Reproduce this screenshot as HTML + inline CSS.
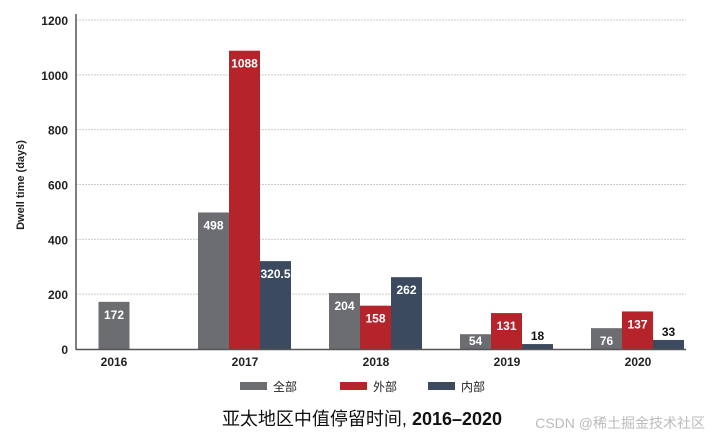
<!DOCTYPE html>
<html><head><meta charset="utf-8"><style>
body{margin:0;background:#fff;width:720px;height:440px;overflow:hidden;font-family:"Liberation Sans","Noto Sans CJK SC",sans-serif}
</style></head><body>
<svg id="chart" width="720" height="440" xmlns="http://www.w3.org/2000/svg" font-family="Liberation Sans, Noto Sans CJK SC, sans-serif">
<text transform="translate(24,185) rotate(-90)" text-anchor="middle" font-size="11" font-weight="bold" fill="#222">Dwell time (days)</text>
<g id="grid"></g><g id="bars"></g>
<line x1="76" y1="14" x2="76" y2="350" stroke="#555" stroke-width="1.5"/>
<line x1="76" y1="349.5" x2="686" y2="349.5" stroke="#555" stroke-width="1.5"/>
<g font-size="12" fill="#222">
<rect x="240" y="382" width="27" height="8" fill="#6b6d70"/><text x="273" y="391">全部</text>
<rect x="340" y="382" width="27" height="8" fill="#b5232b"/><text x="373" y="391">外部</text>
<rect x="428" y="382" width="27" height="8" fill="#3b4a5e"/><text x="461" y="391">内部</text>
</g>
<text x="362" y="425" text-anchor="middle" font-size="18" fill="#111">亚太地区中值停留时间, <tspan font-weight="bold">2016–2020</tspan></text>
<text x="705" y="428" text-anchor="end" font-size="14" fill="#bbb">CSDN @稀土掘金技术社区</text>
</svg>
<script>
const years = ['2016','2017','2018','2019','2020'];
const allValues = [172, 498, 204, 54, 76];
const externalValues = [null, 1088, 158, 131, 137];
const internalValues = [null, 320.5, 262, 18, 33];
const valueLabels = [['172',null,null],['498','1088','320.5'],['204','158','262'],['54','131','18'],['76','137','33']];
const yTicks = [0,200,400,600,800,1000,1200];
const NS='http://www.w3.org/2000/svg';
const y0=349, yTop=20, vMax=1200;
const y=v=>y0-(v/vMax)*(y0-yTop);
const xCenter=i=>114+i*131;
const bw=31;
const colors=['#6b6d70','#b5232b','#3b4a5e'];
const names=['all','external','internal'];
const grid=document.getElementById('grid'), bars=document.getElementById('bars');
function mk(t,a,p){const e=document.createElementNS(NS,t);for(const k in a)e.setAttribute(k,a[k]);p.appendChild(e);return e;}
yTicks.forEach(t=>{
  if(t>0){const l=mk('line',{x1:76,x2:686,y1:y(t),y2:y(t),stroke:'#ccc','stroke-dasharray':'2,1','stroke-width':1},grid);
  
  }
  const tx=mk('text',{x:68,y:y(t)+5,'text-anchor':'end','font-size':12,'font-weight':'bold',fill:'#222'},grid);
  tx.textContent=t;
  
  
});
years.forEach((yr,i)=>{
  const series=[allValues[i],externalValues[i],internalValues[i]];
  const present=series.map((v,j)=>v==null?null:j).filter(j=>j!=null);
  const n=present.length;
  present.forEach((j,k)=>{
    const v=series[j];
    const bx = n===1 ? xCenter(i)-bw/2 : xCenter(i)-47+k*bw;
    const top=y(v);
    const r=mk('rect',{x:bx,y:top,width:bw,height:y0-top,fill:colors[j]},bars);
    
    
    const small=(y0-top)<12;
    const t=mk('text',{x:bx+bw/2,y:small?top-4:Math.min(top+17,y0-4),'text-anchor':'middle','font-size':12,'font-weight':'bold',fill:small?'#111':'#fff'},bars);
    t.textContent=valueLabels[i][j];
    
    
  });
  const xt=mk('text',{x:xCenter(i),y:366,'text-anchor':'middle','font-size':12,'font-weight':'bold',fill:'#222'},bars);
  xt.textContent=yr;
  
  
});
</script>
</body></html>
